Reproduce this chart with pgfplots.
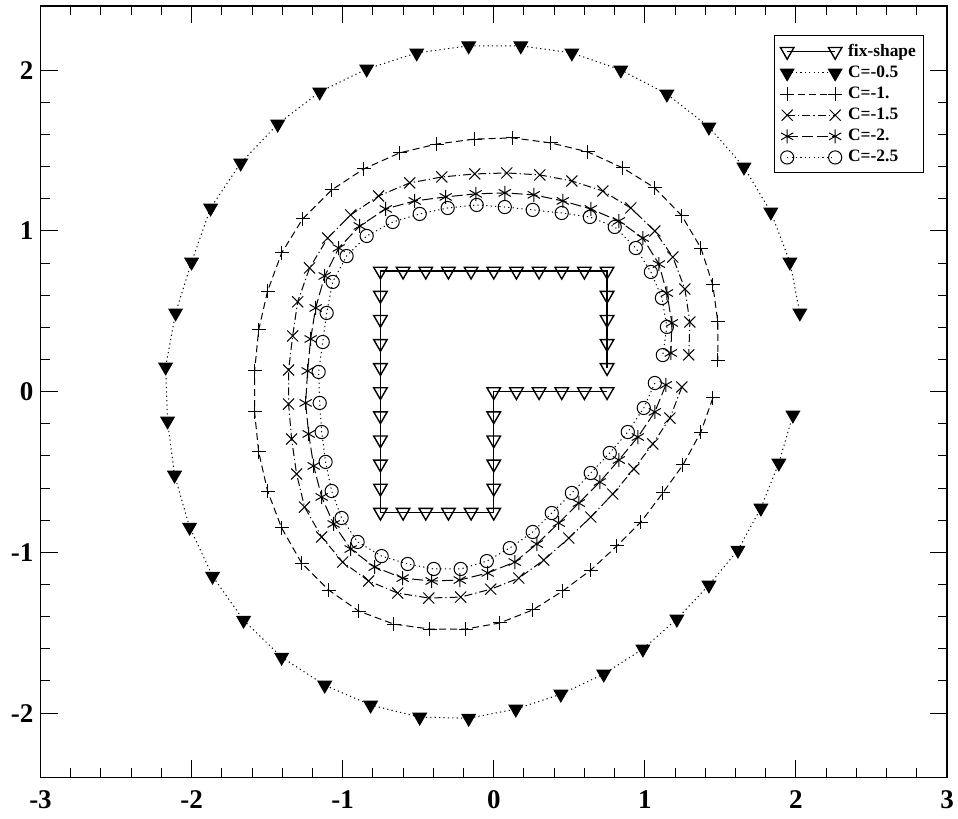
\documentclass[border=0pt]{standalone}
\usepackage{fontspec}
\setmainfont{Liberation Serif}
\usepackage{pgfplots}
\pgfplotsset{compat=1.18}
\begin{document}
\begin{tikzpicture}
\begin{axis}[
  scale only axis, width=453.25pt, height=385.7pt,
  xmin=-3, xmax=3, ymin=-2.4, ymax=2.4,
  xtick={-3,-2,-1,0,1,2,3}, xticklabels={-3,-2,-1,0,1,2,3},
  ytick={-2,-1,0,1,2}, yticklabels={-2,-1,0,1,2},
  minor x tick num=4, minor y tick num=4,
  tick align=inside, major tick length=8.5pt, minor tick length=4.5pt,
  tick style={black, line width=0.5pt},
  axis line style={line width=0.6pt},
  ticklabel style={font=\fontsize{13.5}{15}\selectfont\bfseries},
  xticklabel style={yshift=-3pt},
  legend style={at={(0.975,0.962)}, anchor=north east, draw=black, line width=0.5pt,
     font=\fontsize{8.7}{10}\selectfont\bfseries, row sep=1.3pt, column sep=2pt, inner sep=3pt,
     nodes={inner sep=1pt}},
  legend cell align=left,
  legend image code/.code={\draw[mark repeat=2,mark phase=1,#1] plot coordinates {(0pt,0pt)(12pt,0pt)(24pt,0pt)};},
]
% fix-shape
\addplot[black, line width=0.7pt, mark=triangle, mark size=3.9pt, mark options={solid, rotate=180}] coordinates {
(0.75,0)(0.6,0)(0.45,0)(0.3,0)(0.15,0)(0,0)(0,-0.15)(0,-0.3)(0,-0.45)(0,-0.6)(0,-0.75)
(-0.15,-0.75)(-0.3,-0.75)(-0.45,-0.75)(-0.6,-0.75)(-0.75,-0.75)(-0.75,-0.6)(-0.75,-0.45)(-0.75,-0.3)(-0.75,-0.15)
(-0.75,0)(-0.75,0.15)(-0.75,0.3)(-0.75,0.45)(-0.75,0.6)(-0.75,0.75)(-0.6,0.75)(-0.45,0.75)(-0.3,0.75)(-0.15,0.75)
(0,0.75)(0.15,0.75)(0.3,0.75)(0.45,0.75)(0.6,0.75)(0.75,0.75)(0.75,0.6)(0.75,0.45)(0.75,0.3)(0.75,0.15)
};
\addlegendentry{fix-shape}
% C=-0.5
\addplot[black, line width=0.5pt, dash pattern=on 0.6pt off 1.6pt, mark=triangle*, mark size=3.9pt, mark options={solid, rotate=180, fill=black}] coordinates {
(1.980,-0.145)(1.887,-0.444)(1.768,-0.724)(1.616,-0.986)(1.424,-1.203)(1.212,-1.415)(0.987,-1.601)(0.728,-1.757)
(0.444,-1.882)(0.146,-1.975)(-0.166,-2.032)(-0.490,-2.025)(-0.815,-1.950)(-1.119,-1.826)(-1.404,-1.652)(-1.656,-1.422)
(-1.861,-1.148)(-2.013,-0.843)(-2.113,-0.519)(-2.159,-0.182)(-2.172,0.154)(-2.106,0.490)(-2.000,0.807)(-1.874,1.143)
(-1.675,1.423)(-1.430,1.665)(-1.152,1.865)(-0.841,2.008)(-0.510,2.108)(-0.166,2.152)(0.179,2.152)(0.517,2.108)
(0.841,2.002)(1.146,1.852)(1.424,1.647)(1.656,1.398)(1.834,1.118)(1.960,0.807)(2.026,0.490)
};
\addlegendentry{C=-0.5}
% C=-1
\addplot[black, line width=0.5pt, dash pattern=on 3.5pt off 2pt, mark=+, mark size=3.5pt, mark options={solid}] coordinates {
(1.450,-0.039)(1.371,-0.251)(1.252,-0.456)(1.119,-0.630)(0.974,-0.811)(0.815,-0.960)(0.642,-1.110)(0.457,-1.240)
(0.258,-1.358)(0.040,-1.439)(-0.185,-1.477)(-0.424,-1.477)(-0.662,-1.446)(-0.894,-1.365)(-1.093,-1.234)(-1.272,-1.066)
(-1.404,-0.848)(-1.497,-0.618)(-1.556,-0.375)(-1.583,-0.126)(-1.583,0.129)(-1.556,0.384)(-1.497,0.626)(-1.404,0.863)
(-1.265,1.075)(-1.073,1.255)(-0.861,1.386)(-0.623,1.486)(-0.377,1.541)(-0.126,1.572)(0.126,1.579)(0.377,1.548)
(0.623,1.492)(0.854,1.392)(1.066,1.268)(1.245,1.094)(1.371,0.894)(1.450,0.664)(1.483,0.434)(1.483,0.197)
};
\addlegendentry{C=-1.}
% C=-1.5
\addplot[black, line width=0.5pt, dash pattern=on 4pt off 1.5pt on 0.6pt off 1.5pt, mark=x, mark size=3.9pt, mark options={solid}] coordinates {
(1.245,0.029)(1.166,-0.164)(1.053,-0.325)(0.927,-0.481)(0.788,-0.637)(0.642,-0.780)(0.497,-0.911)(0.331,-1.048)
(0.166,-1.160)(-0.020,-1.229)(-0.219,-1.278)(-0.430,-1.284)(-0.636,-1.253)(-0.828,-1.178)(-1.000,-1.060)(-1.139,-0.904)
(-1.252,-0.718)(-1.305,-0.512)(-1.338,-0.294)(-1.358,-0.077)(-1.358,0.135)(-1.331,0.347)(-1.298,0.559)(-1.219,0.770)
(-1.099,0.956)(-0.947,1.100)(-0.762,1.218)(-0.556,1.299)(-0.344,1.336)(-0.126,1.355)(0.086,1.361)(0.305,1.349)
(0.517,1.311)(0.722,1.249)(0.907,1.143)(1.066,1.000)(1.185,0.838)(1.265,0.639)(1.298,0.434)(1.291,0.229)
};
\addlegendentry{C=-1.5}
% C=-2
\addplot[black, line width=0.5pt, dash pattern=on 5.5pt off 2pt, mark=asterisk, mark size=3.5pt, mark options={solid}] coordinates {
(1.139,0.042)(1.066,-0.126)(0.954,-0.282)(0.828,-0.425)(0.702,-0.562)(0.563,-0.693)(0.430,-0.817)(0.285,-0.948)
(0.139,-1.060)(-0.040,-1.128)(-0.225,-1.172)(-0.411,-1.178)(-0.603,-1.160)(-0.788,-1.091)(-0.947,-0.979)(-1.060,-0.823)
(-1.139,-0.655)(-1.192,-0.462)(-1.225,-0.263)(-1.245,-0.070)(-1.232,0.129)(-1.212,0.328)(-1.179,0.521)(-1.119,0.720)
(-1.026,0.894)(-0.887,1.031)(-0.715,1.137)(-0.523,1.187)(-0.318,1.212)(-0.119,1.231)(0.073,1.237)(0.265,1.225)
(0.457,1.187)(0.642,1.137)(0.828,1.062)(0.987,0.956)(1.093,0.794)(1.146,0.614)(1.179,0.428)(1.172,0.241)
};
\addlegendentry{C=-2.}
% C=-2.5
\addplot[black, line width=0.5pt, dash pattern=on 0.6pt off 1.6pt, mark=o, mark size=3.3pt, mark options={solid}] coordinates {
(1.066,0.054)(0.993,-0.101)(0.887,-0.251)(0.768,-0.381)(0.642,-0.506)(0.517,-0.630)(0.384,-0.755)(0.258,-0.873)
(0.106,-0.973)(-0.046,-1.054)(-0.219,-1.103)(-0.397,-1.103)(-0.570,-1.072)(-0.742,-1.023)(-0.901,-0.935)(-1.007,-0.786)
(-1.073,-0.618)(-1.113,-0.437)(-1.139,-0.251)(-1.152,-0.070)(-1.159,0.123)(-1.132,0.309)(-1.106,0.490)(-1.066,0.683)
(-0.974,0.844)(-0.841,0.969)(-0.669,1.056)(-0.490,1.106)(-0.305,1.143)(-0.113,1.162)(0.073,1.149)(0.258,1.131)
(0.450,1.112)(0.636,1.087)(0.801,1.025)(0.940,0.894)(1.040,0.745)(1.113,0.583)(1.146,0.403)(1.119,0.228)
};
\addlegendentry{C=-2.5}
\end{axis}
\pgfresetboundingbox
\path ([shift={(-20.25pt,-20.8pt)}]current axis.south west) rectangle ([shift={(5.5pt,3pt)}]current axis.north east);
\end{tikzpicture}
\end{document}
